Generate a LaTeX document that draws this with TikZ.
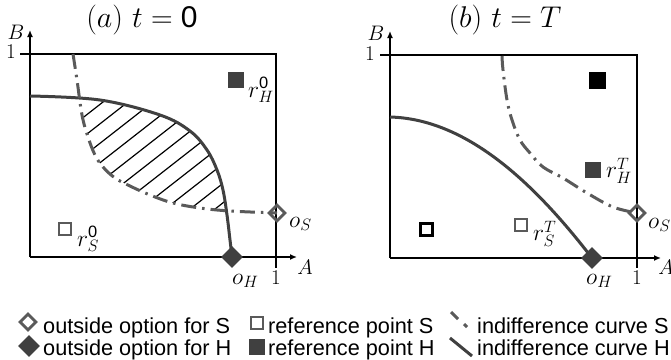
\RequirePackage{fix-cm}
\documentclass[tikz,border=0pt]{standalone}
\usepackage{fontspec}
\setsansfont{Liberation Sans}
\usetikzlibrary{arrows.meta,shapes.geometric}
\definecolor{hcol}{HTML}{404040}
\definecolor{scol}{HTML}{5A5A5A}
\begin{document}
\begin{tikzpicture}[x=1pt,y=-1pt,
 frame/.style={line width=1.8pt},
 axis/.style={line width=1.8pt,-{Latex[length=7pt,width=6pt]}},
 hcurve/.style={line width=3pt,draw=hcol},
 scurve/.style={line width=3pt,draw=scol,dash pattern=on 15pt off 6pt on 2.5pt off 6pt},
 hatch/.style={line width=1.2pt},
 odiam/.style={diamond,draw=scol,line width=2.8pt,minimum size=17pt,inner sep=0pt},
 fdiam/.style={diamond,fill=hcol,minimum size=22pt,inner sep=0pt},
 osq/.style={rectangle,draw=scol,line width=2.8pt,minimum size=12pt,inner sep=0pt},
 bsq/.style={rectangle,draw=black,line width=3pt,minimum size=12pt,inner sep=0pt},
 fsq/.style={rectangle,fill=hcol,minimum size=16pt,inner sep=0pt},
 ksq/.style={rectangle,fill=black,minimum size=17pt,inner sep=0pt},
 lab/.style={inner sep=0pt,font=\fontsize{21}{24}\selectfont},
 plab/.style={inner sep=0pt,anchor=west,font=\fontsize{23.5}{26}\selectfont},
 ttl/.style={inner sep=0pt,font=\fontsize{30}{34}\selectfont},
 leg/.style={inner sep=0pt,anchor=base west,font=\sffamily\fontsize{21.7}{24}\selectfont}]
\useasboundingbox (0,0) rectangle (671,359);

% ---------------- panel (a) ----------------
\node[ttl] (ta) at (142,20) {$(a)\ t=\mathsf{0}$};
\begin{scope}
 \clip plot[smooth,tension=0.6] coordinates {(30,96) (100,100) (160,115) (190,131) (207,150) (217,170) (223,190) (227,215) (230,240) (232,257)} -- (30,257) -- cycle;
 \clip plot[smooth,tension=0.6] coordinates {(73,54) (77,80) (82,115) (88,137) (95,155) (103,167) (115,178) (130,186) (150,195) (173,203) (200,208) (230,211) (277,213)} -- (277,54) -- cycle;
 \foreach \k in {0,...,10} \draw[hatch] ({-112+24.9*\k},270) -- ++(300,-234.4);
\end{scope}
\coordinate (a0) at (30,257);
\coordinate (aB) at (30,30);
\coordinate (aA) at (297,257);
\coordinate (aTL) at (20,54);
\coordinate (aTR) at (276,54);
\coordinate (aBR) at (276,268);
\draw[frame] (aTL) -- (aTR) -- (aBR);
\draw[axis] (a0) -- (aB);
\draw[axis] (a0) -- (aA);
\node[lab] (aBl) at (16,32) {$B$};
\node[lab] (a1y) at (11,52) {$1$};
\node[lab] (aAl) at (305,267) {$A$};
\node[lab] (a1x) at (276,278) {$1$};
\draw[hcurve] plot[smooth,tension=0.6] coordinates {(30,96) (100,100) (160,115) (190,131) (207,150) (217,170) (223,190) (227,215) (230,240) (232,257)};
\draw[scurve] plot[smooth,tension=0.6] coordinates {(73,54) (77,80) (82,115) (88,137) (95,155) (103,167) (115,178) (130,186) (150,195) (173,203) (200,208) (230,211) (277,213)};
\node[fsq] (rHa) at (236,80) {};
\node[plab] (rHal) at (248,90) {$r_H^{\mathsf{0}}$};
\node[osq] (rSa) at (65,229) {};
\node[plab] (rSal) at (77,239) {$r_S^{\mathsf{0}}$};
\node[odiam] (oSa) at (277,213) {};
\node[plab] (oSal) at (289,224) {$o_S$};
\node[fdiam] (oHa) at (232,257) {};
\node[plab] (oHal) at (232,281) {$o_H$};

% ---------------- panel (b) ----------------
\node[ttl] (tb) at (505,20) {$(b)\ t=T$};
\coordinate (b0) at (390,258);
\coordinate (bB) at (390,31);
\coordinate (bA) at (661,258);
\coordinate (bTL) at (380,55);
\coordinate (bTR) at (637,55);
\coordinate (bBR) at (637,268);
\draw[frame] (bTL) -- (bTR) -- (bBR);
\draw[axis] (b0) -- (bB);
\draw[axis] (b0) -- (bA);
\node[lab] (bBl) at (376,33) {$B$};
\node[lab] (b1y) at (370,54) {$1$};
\node[lab] (bAl) at (666,267) {$A$};
\node[lab] (b1x) at (637,278) {$1$};
\draw[hcurve] (390,117) .. controls (465,119) and (532,180) .. (592,258);
\draw[scurve] plot[smooth,tension=0.6] coordinates {(502,56) (503,70) (507,100) (512,120) (520,140) (530,153) (543,167) (563,178) (587,193) (613,207) (637,213)};
\node[ksq] (kb) at (597,80) {};
\node[fsq] (rHb) at (593,170) {};
\node[plab] (rHbl) at (606,171) {$r_H^T$};
\node[bsq] (bb) at (426,229) {};
\node[osq] (rSb) at (521,225) {};
\node[plab] (rSbl) at (533,234) {$r_S^T$};
\node[odiam] (oSb) at (637,213) {};
\node[plab] (oSbl) at (648,225) {$o_S$};
\node[fdiam] (oHb) at (592,258) {};
\node[plab] (oHbl) at (586,281) {$o_H$};

% ---------------- legend ----------------
\node[odiam] (l1) at (28,322) {};
\node[leg] (l1t) at (43,333) {outside option for S};
\node[fdiam] (l2) at (29,346) {};
\node[leg] (l2t) at (43,355) {outside option for H};
\node[osq] (l3) at (257,323) {};
\node[leg] (l3t) at (268,333) {reference point S};
\node[fsq] (l4) at (257,347) {};
\node[leg] (l4t) at (268,355) {reference point H};
\coordinate (l5a) at (451,312);
\coordinate (l5b) at (458,319);
\coordinate (l5c) at (464,324);
\coordinate (l5d) at (467,327);
\draw[line width=3pt,draw=scol] (l5a) -- (l5b);
\draw[line width=3pt,draw=scol] (l5c) -- (l5d);
\node[leg] (l5t) at (477,333) {indifference curve S};
\coordinate (l6a) at (450,338);
\coordinate (l6b) at (472,356);
\draw[hcurve] (l6a) -- (l6b);
\node[leg] (l6t) at (477,355) {indifference curve H};
\end{tikzpicture}
\end{document}
